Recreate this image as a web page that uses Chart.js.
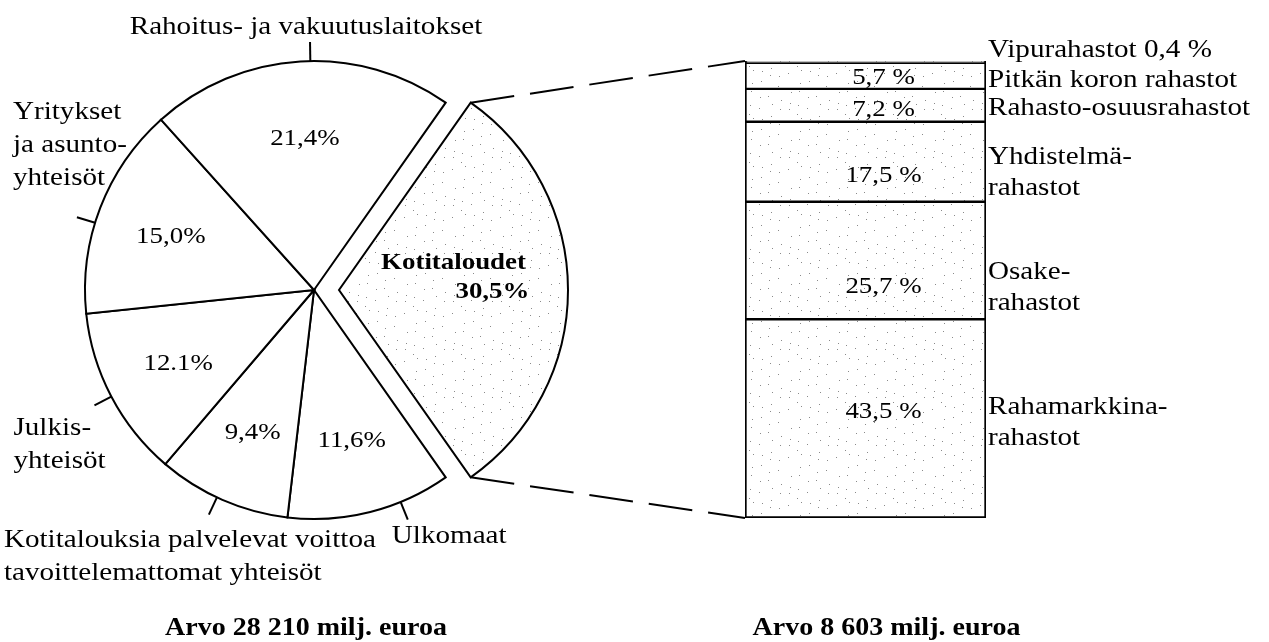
<!DOCTYPE html>
<html>
<head>
<meta charset="utf-8">
<script src="https://cdn.jsdelivr.net/npm/chart.js@4.4.0/dist/chart.umd.min.js"></script>
<style>
  body { margin: 0; background: #fff; }
  #wrap { position: relative; width: 1269px; height: 642px; }
  canvas { position: absolute; left: 0; top: 0; }
  .preload { position: absolute; left: -9999px; top: 0; font-family: "Liberation Serif"; }
</style>
</head>
<body>
<span class="preload">Aa</span><span class="preload" style="font-weight:bold">Aa</span>
<div id="wrap">
  <canvas id="barChart" width="1269" height="642"></canvas>
  <canvas id="pieChart" width="1269" height="642"></canvas>
</div>
<script>
// Sektorit myötäpäivään, alkaen kotitalouksista
const sectorLabels = [
  ['Kotitaloudet'],
  ['Ulkomaat'],
  ['Kotitalouksia palvelevat voittoa', 'tavoittelemattomat yhteisöt'],
  ['Julkis-', 'yhteisöt'],
  ['Yritykset', 'ja asunto-', 'yhteisöt'],
  ['Rahoitus- ja vakuutuslaitokset']
];
const sectorShares = [30.5, 11.6, 9.4, 12.1, 15.0, 21.4];
const sectorShareText = ['30,5%', '11,6%', '9,4%', '12.1%', '15,0%', '21,4%'];

// Kotitalouksien rahasto-osuudet, alhaalta ylös
const fundLabels = [
  ['Rahamarkkina-', 'rahastot'],
  ['Osake-', 'rahastot'],
  ['Yhdistelmä-', 'rahastot'],
  ['Rahasto-osuusrahastot'],
  ['Pitkän koron rahastot'],
  ['Vipurahastot 0,4 %']
];
const fundShares = [43.5, 25.7, 17.5, 7.2, 5.7, 0.4];
const fundShareText = ['43,5 %', '25,7 %', '17,5 %', '7,2 %', '5,7 %', ''];

const pieCaption = 'Arvo 28 210 milj. euroa';
const barCaption = 'Arvo 8 603 milj. euroa';

// ulkopuolisten nimien sijoittelu (kulmasiirto asteina, siirto viivan päästä)
const sectorLabelPos = [
  null,
  { shift: -8, align: 'left', dx: -16, dy: 17 },
  { shift: 1.5, align: 'left', dx: -205, dy: 26 },
  { shift: 0, align: 'left', dx: -81, dy: 23 },
  { shift: -4, align: 'left', dx: -64, dy: -105 },
  { shift: 2.5, align: 'center', dx: -4, dy: -15 }
];
const fundValueShift = [-7, 26, 14, 4, 2, 0];
const fundNameShift = [-11, 12, -5, 3, 4, -12];

const EXPLODE = 25;
const STRETCH = 1.12;
const REG = '26px "Liberation Serif"';
const VAL = '24px "Liberation Serif"';
const BOLD = 'bold 24px "Liberation Serif"';
const CAP = 'bold 25px "Liberation Serif"';

function text(ctx, str, x, y, align, font) {
  ctx.save();
  ctx.font = font;
  ctx.textAlign = align;
  ctx.textBaseline = 'middle';
  ctx.fillStyle = '#000';
  ctx.translate(x, y);
  ctx.scale(STRETCH, 1);
  ctx.fillText(str, 0, 0);
  ctx.restore();
}

// pisteytetty täyttö kuten alkuperäisessä
function speckle() {
  const c = document.createElement('canvas');
  c.width = c.height = 48;
  const g = c.getContext('2d');
  g.fillStyle = '#fff';
  g.fillRect(0, 0, 48, 48);
  g.fillStyle = '#8a8a8a';
  for (let i = 0; i < 22; i++) {
    g.fillRect((i * 29) % 48, (i * 17 + (i * i) % 11) % 48, 1, 1);
  }
  return g.createPattern(c, 'repeat');
}

function drawCharts() {
  const dots = speckle();

  const explodePlugin = {
    id: 'explode',
    afterDatasetsUpdate(chart) {
      const arc = chart.getDatasetMeta(0).data[0];
      const mid = (arc.startAngle + arc.endAngle) / 2;
      arc.x += EXPLODE * Math.cos(mid);
      arc.y += EXPLODE * Math.sin(mid);
    }
  };

  const pieLabelPlugin = {
    id: 'pieLabels',
    afterDatasetsDraw(chart) {
      const ctx = chart.ctx;
      const meta = chart.getDatasetMeta(0);
      meta.data.forEach((arc, i) => {
        const mid = (arc.startAngle + arc.endAngle) / 2;
        const R = arc.outerRadius;
        if (i === 0) {
          text(ctx, sectorLabels[0][0], arc.x + 0.5 * R * Math.cos(mid), arc.y + 0.5 * R * Math.sin(mid) - 27, 'center', BOLD);
          text(ctx, sectorShareText[0], arc.x + 0.67 * R * Math.cos(mid), arc.y + 0.67 * R * Math.sin(mid) + 2, 'center', BOLD);
          return;
        }
        text(ctx, sectorShareText[i], arc.x + 0.67 * R * Math.cos(mid), arc.y + 0.67 * R * Math.sin(mid) + 2, 'center', VAL);

        const p = sectorLabelPos[i];
        const a = mid + p.shift * Math.PI / 180;
        const ex = arc.x + (R + 19) * Math.cos(a);
        const ey = arc.y + (R + 19) * Math.sin(a);
        ctx.save();
        ctx.strokeStyle = '#000';
        ctx.lineWidth = 2;
        ctx.beginPath();
        ctx.moveTo(arc.x + R * Math.cos(a), arc.y + R * Math.sin(a));
        ctx.lineTo(ex, ey);
        ctx.stroke();
        ctx.restore();
        sectorLabels[i].forEach((line, k) => {
          text(ctx, line, ex + p.dx, ey + p.dy + k * 33, p.align, REG);
        });
      });
      const area = chart.chartArea;
      text(ctx, pieCaption, (area.left + area.right) / 2 - 8, chart.height - 13, 'center', CAP);
    }
  };

  const pieChart = new Chart(document.getElementById('pieChart'), {
    type: 'pie',
    data: {
      labels: sectorLabels.map(l => l.join(' ')),
      datasets: [{
        data: sectorShares,
        backgroundColor: sectorShares.map((v, i) => i === 0 ? dots : '#fff'),
        borderColor: '#000',
        borderWidth: 2,
        borderJoinStyle: 'miter'
      }]
    },
    options: {
      responsive: false,
      animation: false,
      radius: 229,
      rotation: 90 - sectorShares[0] * 1.8,
      layout: { padding: { left: 0, right: 641, top: 0, bottom: 62 } },
      plugins: { legend: { display: false }, tooltip: { enabled: false } }
    },
    plugins: [explodePlugin, pieLabelPlugin]
  });

  const fundLabelPlugin = {
    id: 'fundLabels',
    afterDatasetsDraw(chart) {
      const ctx = chart.ctx;
      let bar;
      fundShares.forEach((v, i) => {
        bar = chart.getDatasetMeta(i).data[0];
        const mid = (bar.y + bar.base) / 2;
        const right = bar.x + bar.width / 2;
        if (fundShareText[i]) {
          text(ctx, fundShareText[i], bar.x + 18, mid + fundValueShift[i], 'center', VAL);
        }
        fundLabels[i].forEach((line, k) => {
          text(ctx, line, right + 2, mid + fundNameShift[i] + k * 31, 'left', REG);
        });
      });
      text(ctx, barCaption, bar.x + 21, chart.height - 13, 'center', CAP);

      // katkoviivat piirakan lohkosta pylvääseen
      const arc = pieChart.getDatasetMeta(0).data[0];
      const R = arc.outerRadius;
      const top = chart.getDatasetMeta(fundShares.length - 1).data[0];
      const bottom = chart.getDatasetMeta(0).data[0];
      const left = top.x - top.width / 2;
      ctx.save();
      ctx.strokeStyle = '#000';
      ctx.lineWidth = 2;
      ctx.setLineDash([44, 16]);
      ctx.beginPath();
      ctx.moveTo(arc.x + R * Math.cos(arc.startAngle), arc.y + R * Math.sin(arc.startAngle));
      ctx.lineTo(left, top.y);
      ctx.moveTo(arc.x + R * Math.cos(arc.endAngle), arc.y + R * Math.sin(arc.endAngle));
      ctx.lineTo(left, bottom.base);
      ctx.stroke();
      ctx.restore();
    }
  };

  new Chart(document.getElementById('barChart'), {
    type: 'bar',
    data: {
      labels: ['Kotitaloudet'],
      datasets: fundShares.map((v, i) => ({
        label: fundLabels[i].join(' '),
        data: [v],
        backgroundColor: dots,
        borderColor: '#000',
        borderWidth: { top: 1.5, bottom: i === 0 ? 2 : 1.5, left: 2, right: 2 },
        borderSkipped: false,
        barPercentage: 1,
        categoryPercentage: 1
      }))
    },
    options: {
      responsive: false,
      animation: false,
      layout: { padding: { left: 745, right: 283, top: 61, bottom: 124 } },
      scales: {
        x: { display: false, stacked: true },
        y: { display: false, stacked: true, min: 0, max: 100 }
      },
      plugins: { legend: { display: false }, tooltip: { enabled: false } }
    },
    plugins: [fundLabelPlugin]
  });
}

Promise.all([REG, BOLD].map(f => document.fonts.load(f)))
  .catch(() => {})
  .then(drawCharts);
</script>
</body>
</html>
